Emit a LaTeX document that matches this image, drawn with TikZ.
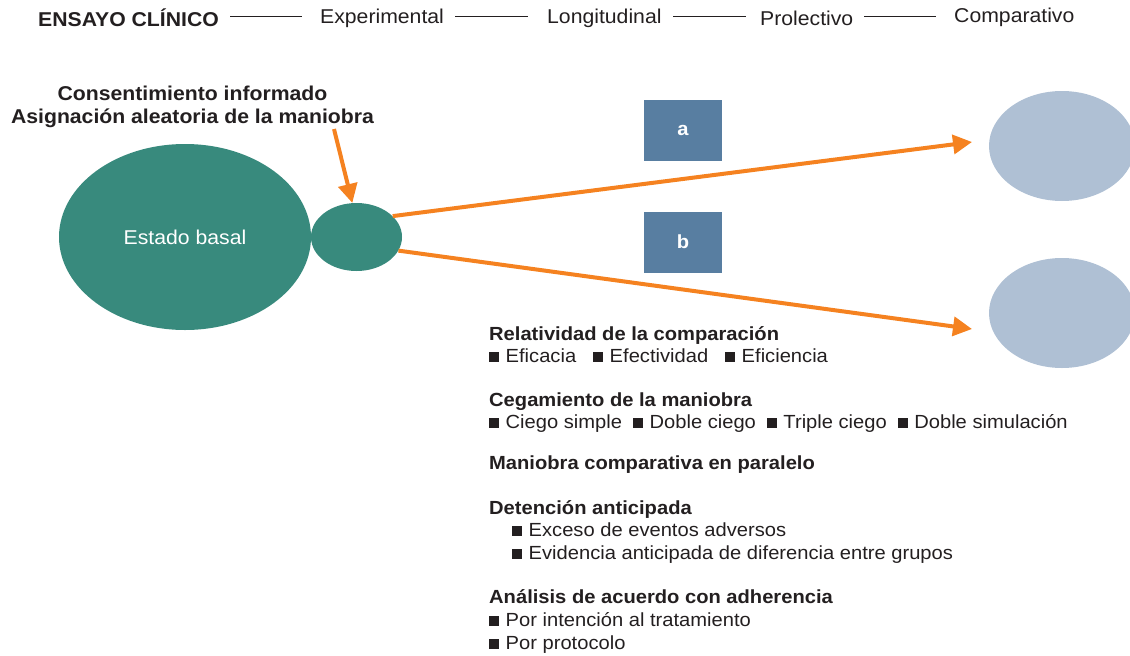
\documentclass[tikz,border=0pt]{standalone}
\usepackage{fontspec}
\setmainfont[FakeStretch=1.06]{Liberation Sans}
\usetikzlibrary{shapes.geometric,arrows.meta}
\definecolor{verde}{HTML}{388A7D}
\definecolor{azul}{HTML}{587EA1}
\definecolor{celeste}{HTML}{AFC0D4}
\definecolor{naranja}{HTML}{F58220}
\definecolor{tinta}{HTML}{231F20}
\newcommand{\cu}{\rule{10pt}{10pt}\hspace{6.5pt}}
\tikzset{
  texto/.style={anchor=base west,inner sep=0,text=tinta,font=\fontsize{19}{22}\selectfont},
  titulo/.style={texto,font=\fontsize{19}{22}\selectfont\bfseries},
  cabeza/.style={texto,font=\fontsize{20}{24}\selectfont},
  raya/.style={draw=tinta,line width=1pt},
  flecha/.style={draw=naranja,line width=4pt,-{Triangle[length=19pt,width=19pt]}},
  ovalo/.style={ellipse,fill=verde,inner sep=0},
  meta/.style={ellipse,fill=celeste,minimum width=146pt,minimum height=110pt,inner sep=0},
  caja/.style={rectangle,fill=azul,minimum width=78pt,minimum height=61pt,text=white,font=\fontsize{19}{22}\selectfont\bfseries}
}
\begin{document}
\begin{tikzpicture}[x=1pt,y=-1pt]
\useasboundingbox (0,0) rectangle (1130,656);
\node[cabeza,font=\fontsize{20}{24}\selectfont\bfseries] (ensayo) at (38,26) {ENSAYO CLÍNICO};
\node[cabeza] (experimental) at (320,23) {Experimental};
\node[cabeza] (longitudinal) at (547,23) {Longitudinal};
\node[cabeza] (prolectivo) at (760,25) {Prolectivo};
\node[cabeza] (comparativo) at (954,22) {Comparativo};
\draw[raya] (230,16) -- (302,16);
\draw[raya] (455,16) -- (528,16);
\draw[raya] (673,16) -- (746,16);
\draw[raya] (864,16) -- (936,16);

\node[ovalo,minimum width=252pt,minimum height=186pt,text=white,font=\fontsize{20}{24}\selectfont] (basal) at (185,237) {Estado basal};
\node[ovalo,minimum width=91pt,minimum height=68pt] (asignacion) at (356.5,237) {};
\node[cabeza,anchor=base,font=\fontsize{20}{24}\selectfont\bfseries] (consentimiento) at (192.5,100) {Consentimiento informado};
\node[cabeza,anchor=base,font=\fontsize{20}{24}\selectfont\bfseries] (aleatoria) at (192.5,123) {Asignación aleatoria de la maniobra};
\coordinate (inicio) at (334,129);
\draw[flecha] (inicio) -- (asignacion.97);

\node[caja] (a) at (683,130) {a};
\node[caja] (b) at (683,242) {b};
\node[meta] (grupoa) at (1062,146) {};
\node[meta] (grupob) at (1062,313) {};
\coordinate (puntaa) at (972,142);
\coordinate (puntab) at (972,329);
\draw[flecha] (asignacion.30) -- (puntaa);
\draw[flecha] (asignacion.-18) -- (puntab);

\node[titulo] (relatividad) at (489,340) {Relatividad de la comparación};
\node[texto] (eficacia) at (489,362) {\cu Eficacia\hspace{17pt}\cu Efectividad\hspace{17pt}\cu Eficiencia};
\node[titulo] (cegamiento) at (489,406) {Cegamiento de la maniobra};
\node[texto] (ciego) at (489,428) {\cu Ciego simple\hspace{11pt}\cu Doble ciego\hspace{11pt}\cu Triple ciego\hspace{11pt}\cu Doble simulación};
\node[titulo] (paralelo) at (489,469) {Maniobra comparativa en paralelo};
\node[titulo] (detencion) at (489,514) {Detención anticipada};
\node[texto] (exceso) at (512,536) {\cu Exceso de eventos adversos};
\node[texto] (evidencia) at (512,559) {\cu Evidencia anticipada de diferencia entre grupos};
\node[titulo] (analisis) at (489,603) {Análisis de acuerdo con adherencia};
\node[texto] (intencion) at (489,626) {\cu Por intención al tratamiento};
\node[texto] (protocolo) at (489,649) {\cu Por protocolo};
\end{tikzpicture}
\end{document}
